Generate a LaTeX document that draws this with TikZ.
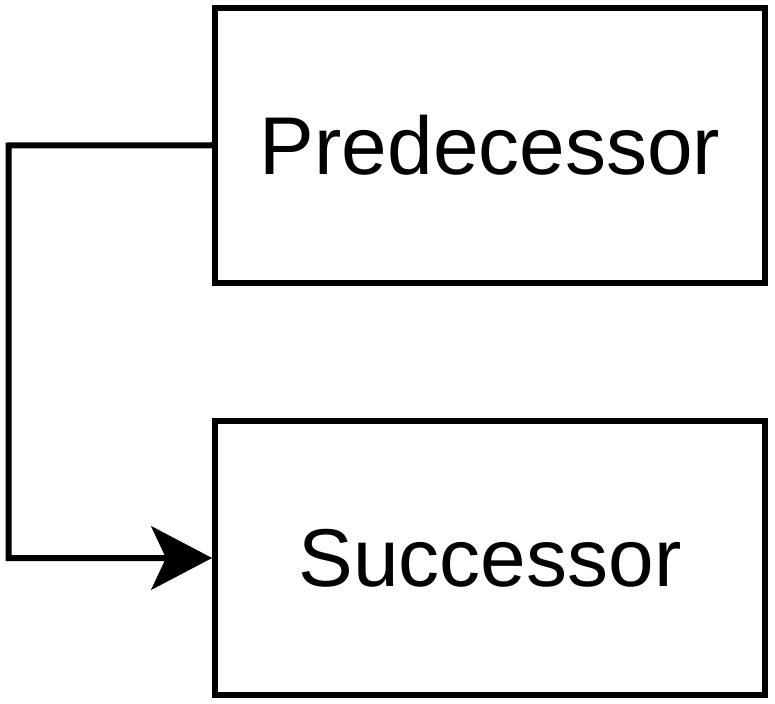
\documentclass[tikz,border=0pt]{standalone}
\usepackage{fontspec}
\setmainfont{Liberation Sans}
\usetikzlibrary{arrows.meta}
\begin{document}
\begin{tikzpicture}[x=1pt,y=-1pt,
  box/.style={draw=black,line width=6pt,minimum width=550pt,minimum height=274.5pt,inner sep=0pt,
    font=\fontsize{82}{90}\selectfont},
  conn/.style={draw=black,line width=6pt,-{Stealth[length=61pt,width=64pt,inset=15pt,line width=0.5pt]}}]
\useasboundingbox (0,0) rectangle (775,703);
\node[box] (pred) at (490,145.25) {Predecessor};
\node[box] (succ) at (490,558) {Successor};
\coordinate (bend) at (8.5,145.5);
\draw[conn] (pred.west) -- (bend) |- (succ.west);
\end{tikzpicture}
\end{document}
